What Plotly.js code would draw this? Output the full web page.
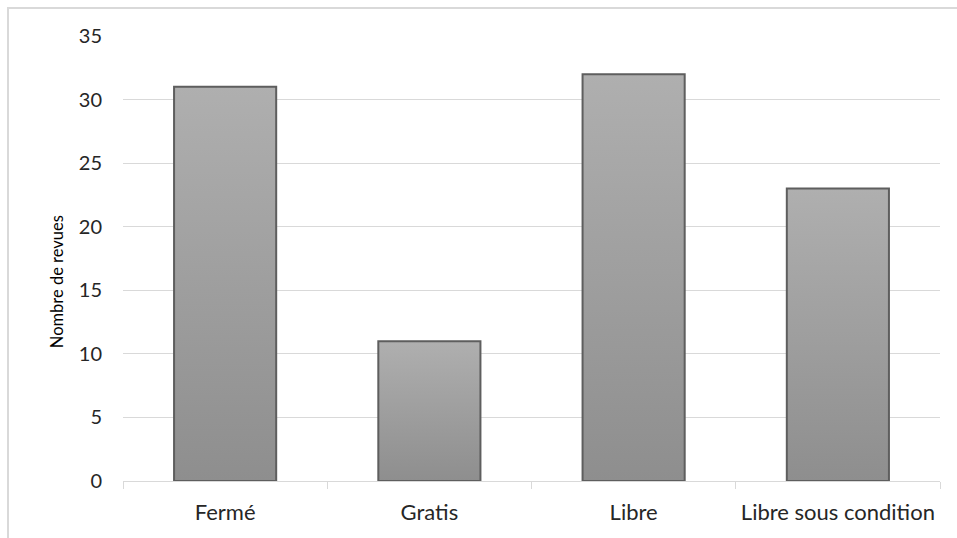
<!DOCTYPE html>
<html>
<head>
<meta charset="utf-8">
<script src="https://cdn.plot.ly/plotly-3.0.1.min.js"></script>
<style>
  html, body { margin: 0; padding: 0; background: #fff; }
  #wrap { position: relative; width: 957px; height: 538px; overflow: hidden; }
  #chart { width: 957px; height: 538px; }
  #frame { position: absolute; left: 7px; top: 7px; right: -5px; bottom: -5px;
           border: 2px solid #d9d9d9; pointer-events: none; }
</style>
</head>
<body>
<div id="wrap">
  <div id="chart"></div>
  <div id="frame"></div>
</div>
<script>
const categories = ["Fermé", "Gratis", "Libre", "Libre sous condition"];
const values = [31, 11, 32, 23];
const yTitle = "Nombre de revues";

const FONT = "Lato, Open Sans, sans-serif";

const data = [{
  type: "bar",
  x: categories,
  y: values,
  width: 0.5,
  marker: { color: "#a0a0a0", line: { color: "#5e5e5e", width: 2 } },
  hoverinfo: "x+y"
}];

const layout = {
  width: 957, height: 538,
  margin: { l: 123, r: 17, t: 36, b: 57 },
  paper_bgcolor: "#ffffff",
  plot_bgcolor: "#ffffff",
  showlegend: false,
  font: { family: FONT, size: 20, color: "#262626" },
  xaxis: {
    type: "category",
    tickson: "boundaries",
    ticks: "outside", ticklen: 7, tickcolor: "#d9d9d9", tickwidth: 1,
    showline: true, linecolor: "#d9d9d9", linewidth: 1,
    showgrid: false, zeroline: false,
    ticklabelstandoff: 12,
    tickfont: { family: FONT, size: 22, color: "#262626" }
  },
  yaxis: {
    range: [0, 35], dtick: 5, tick0: 0,
    showgrid: true, gridcolor: "#d9d9d9", gridwidth: 1,
    zeroline: false, showline: false, ticks: "",
    ticklabelstandoff: 20,
    tickfont: { family: FONT, size: 20, color: "#262626" }
  },
  annotations: [{
    text: yTitle,
    xref: "paper", yref: "paper",
    x: -0.0808, y: 0.449,
    xanchor: "center", yanchor: "middle",
    textangle: -90,
    showarrow: false,
    font: { family: FONT, size: 16.5, color: "#000000" }
  }]
};

Plotly.newPlot("chart", data, layout, { displayModeBar: false, staticPlot: true }).then(function (gd) {
  const svg = gd.querySelector("svg.main-svg");
  const ns = "http://www.w3.org/2000/svg";
  let defs = svg.querySelector("defs");
  if (!defs) { defs = document.createElementNS(ns, "defs"); svg.insertBefore(defs, svg.firstChild); }
  const g = document.createElementNS(ns, "linearGradient");
  g.setAttribute("id", "barGrad");
  g.setAttribute("x1", "0"); g.setAttribute("y1", "0");
  g.setAttribute("x2", "0"); g.setAttribute("y2", "1");
  [["0", "#afafaf"], ["1", "#8e8e8e"]].forEach(function (s) {
    const st = document.createElementNS(ns, "stop");
    st.setAttribute("offset", s[0]);
    st.setAttribute("stop-color", s[1]);
    g.appendChild(st);
  });
  defs.appendChild(g);
  gd.querySelectorAll(".barlayer .point path").forEach(function (p) {
    p.style.fill = "url(#barGrad)";
  });
});
</script>
</body>
</html>
